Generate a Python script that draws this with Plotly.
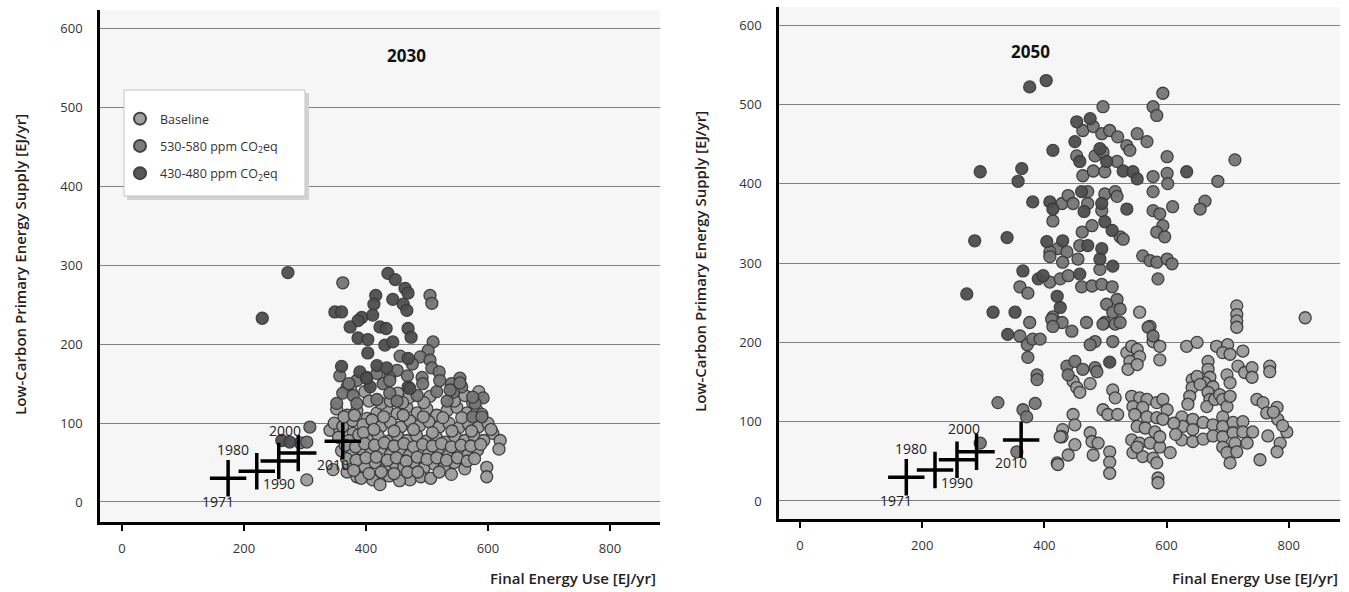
import plotly.graph_objects as go

# ---------------- data ----------------
hist_x = [174, 221, 257, 289, 362]
hist_y = [30, 39, 52, 62, 77]
hist_labels = ["1971", "1980", "1990", "2000", "2010"]

# 2030 panel
p2030_low_x = [272, 230, 436, 448, 464, 469, 416, 444, 413, 461, 467, 349, 360, 393, 387, 411, 374, 423, 433,
               469, 474, 387, 403, 431, 444, 403, 469, 418, 434, 390, 469, 407, 472, 262, 275, 401, 360]
p2030_low_y = [291, 233, 290, 282, 271, 265, 262, 257, 251, 251, 243, 241, 241, 234, 230, 237, 222, 222, 220,
               220, 209, 208, 206, 199, 203, 189, 182, 173, 170, 165, 146, 146, 144, 78, 76, 157, 172]

p2030_mid_x = [362, 505, 508, 510, 502, 489, 505, 508, 451, 439, 369, 362, 379, 492, 493, 428, 439, 554, 557,
               543, 592, 579, 575, 590, 352, 385, 418, 451, 484, 516, 533, 456, 476, 520, 540, 468, 308, 292,
               303, 385, 401, 418, 439, 521, 538, 554, 575, 357, 372]
p2030_mid_y = [278, 262, 252, 203, 192, 184, 180, 170, 167, 158, 146, 138, 135, 158, 150, 150, 138, 157, 146,
               139, 132, 125, 108, 108, 125, 125, 130, 128, 135, 140, 128, 185, 175, 165, 150, 160, 95, 75,
               76, 154, 158, 163, 154, 154, 142, 151, 133, 160, 150]

p2030_base_x = [341, 357, 379, 346, 369, 385, 411, 423, 472, 598, 598, 608, 620, 618, 303,
                352, 369, 385, 402, 418, 434, 451, 467, 484, 500, 516, 533, 549, 566, 582, 587,
                348, 362, 378, 395, 410, 425, 440, 457, 472, 488, 503, 520, 536, 552, 568, 584, 600,
                355, 372, 388, 403, 420, 436, 452, 467, 483, 499, 515, 530, 546, 562, 577, 593,
                360, 376, 393, 408, 424, 440, 456, 471, 487, 503, 518, 535, 550, 567, 583,
                372, 398, 415, 431, 447, 462, 479, 495, 512, 528, 545, 562,
                392, 438, 455, 490, 506, 375, 398, 452, 470, 505, 562, 585,
                364, 381, 396, 413, 429, 446, 461, 478, 494, 509, 526, 541, 557, 573, 590, 605,
                366, 383, 398, 414, 430, 446, 462, 478, 493, 509, 524, 540, 556, 572, 588,
                368, 384, 400, 417, 435, 450, 466, 484, 500, 516, 532, 550, 566, 578,
                380, 405, 425, 446, 468, 485, 520, 540, 405, 425, 440, 460, 495, 545, 575]
p2030_base_y = [91, 91, 87, 41, 38, 32, 28, 22, 28, 44, 32, 87, 78, 67, 28,
                118, 110, 116, 106, 113, 118, 112, 120, 113, 118, 110, 116, 120, 113, 116, 104,
                100, 96, 103, 98, 104, 96, 101, 95, 103, 97, 102, 95, 100, 94, 99, 95, 100,
                82, 78, 85, 79, 84, 77, 83, 78, 84, 77, 82, 76, 83, 78, 84, 78,
                65, 60, 67, 62, 68, 60, 66, 59, 65, 61, 67, 59, 65, 60, 66,
                48, 45, 50, 42, 49, 44, 50, 43, 48, 44, 50, 42,
                30, 33, 27, 32, 30, 142, 140, 138, 132, 134, 135, 140,
                108, 110, 88, 92, 108, 90, 110, 92, 108, 88, 107, 90, 107, 90, 111, 92,
                72, 70, 74, 72, 75, 71, 74, 70, 73, 71, 74, 70, 72, 71, 73,
                55, 53, 56, 57, 53, 56, 52, 57, 54, 56, 53, 56, 52, 55,
                40, 36, 38, 36, 38, 38, 38, 35, 128, 125, 128, 126, 126, 128, 126]

# 2050 panel
p2050_low_x = [376, 403, 295, 363, 357, 414, 633, 286, 339, 273, 316, 352, 340, 453, 475, 450, 458, 491, 502,
               535, 409, 414, 461, 381, 494, 499, 511, 465, 507, 529, 545, 552, 404, 430, 390, 398, 365, 458,
               471, 494, 512, 491, 426, 421]
p2050_low_y = [522, 530, 415, 419, 403, 442, 415, 328, 332, 261, 238, 238, 210, 478, 482, 453, 428, 444, 428,
               368, 377, 368, 390, 377, 375, 352, 341, 365, 175, 416, 415, 406, 327, 328, 280, 284, 290, 286,
               322, 318, 296, 305, 244, 258]

p2050_mid_x = [594, 578, 584, 496, 463, 480, 494, 507, 520, 552, 568, 535, 540, 453, 483, 496, 519, 463, 480,
               499, 601, 578, 601, 602, 578, 684, 663, 655, 429, 439, 447, 471, 471, 499, 516, 519, 494, 524,
               578, 589, 594, 584, 597, 610, 414, 422, 409, 437, 458, 462, 478, 529, 409, 430, 455, 561, 573,
               584, 601, 609, 586, 491, 360, 373, 409, 426, 439, 461, 478, 494, 511, 519, 502, 512, 499, 376,
               414, 469, 412, 429, 445, 414, 496, 516, 512, 483, 475, 360, 372, 373, 388, 388, 381, 393, 437,
               439, 450, 463, 483, 486, 570, 578, 324, 365, 371, 385, 712, 524, 524, 295, 355]
p2050_mid_y = [514, 497, 486, 497, 467, 472, 463, 467, 459, 463, 453, 448, 442, 435, 435, 440, 428, 410, 416,
               415, 434, 409, 413, 400, 390, 403, 378, 368, 375, 385, 375, 390, 375, 387, 390, 384, 366, 333,
               366, 362, 347, 339, 333, 371, 353, 318, 314, 314, 322, 339, 347, 330, 308, 301, 305, 309, 303,
               301, 305, 299, 280, 292, 270, 262, 276, 280, 284, 270, 271, 273, 270, 254, 248, 238, 225, 225,
               232, 225, 229, 225, 214, 220, 223, 223, 201, 201, 197, 208, 197, 181, 159, 153, 204, 204, 170,
               159, 176, 166, 168, 163, 219, 208, 124, 115, 106, 123, 430, 242, 225, 73, 62]

p2050_base_x = [447, 453, 458, 475, 512, 516, 496, 504, 520, 447, 450, 430, 429, 475, 478, 488, 450, 439, 421,
                480, 507, 507, 507, 422, 426,
                543, 556, 568, 545, 561, 584, 594, 601, 548, 568, 584, 594, 552, 565, 581, 543, 556, 573, 589,
                606, 545, 561, 578, 584, 552, 589, 586, 586, 535, 543, 552, 556, 540, 537, 552,
                633, 650, 682, 700, 692, 704, 725, 668, 668, 671, 663, 676, 699, 704, 717, 728, 740, 740, 769,
                769, 642, 642, 638, 635, 650, 655, 668, 671, 666, 679, 687, 692, 699, 704, 625, 627, 625, 643,
                643, 643, 660, 660, 676, 676, 692, 692, 692, 709, 709, 712, 725, 725, 732, 741, 692, 699, 715,
                704, 748, 758, 764, 781, 782, 797, 786, 781, 766, 753, 827, 715, 715, 715, 715, 556, 573, 578,
                589, 589, 612, 615, 790, 775]
p2050_base_y = [151, 143, 137, 148, 140, 130, 115, 109, 109, 109, 96, 90, 81, 86, 75, 73, 71, 58, 48,
                58, 62, 49, 35, 46, 81,
                132, 130, 128, 119, 118, 124, 128, 115, 109, 106, 105, 103, 94, 92, 87, 77, 73, 73, 68,
                61, 61, 56, 54, 48, 68, 81, 29, 23, 187, 195, 191, 182, 176, 166, 172,
                195, 200, 195, 197, 187, 185, 189, 176, 166, 156, 149, 144, 159, 149, 170, 162, 168, 156, 170,
                163, 153, 143, 132, 122, 157, 147, 137, 128, 119, 128, 134, 128, 119, 132, 106, 94, 77, 103,
                90, 75, 99, 78, 96, 82, 106, 94, 81, 99, 86, 73, 100, 87, 73, 87, 68, 61, 62,
                48, 128, 124, 111, 118, 103, 87, 73, 62, 82, 52, 231, 246, 235, 227, 219, 238, 220, 201,
                195, 178, 98, 84, 95, 112]

# label placement offsets (pixels) for the historical markers
label_dx = [-10, -24, 0, -13, -10]
label_dy = [-23, 22, -23, 23, -23]

# ---------------- styling ----------------
C_BASE = "#9c9c9c"
C_MID = "#767676"
C_LOW = "#4e4e4e"
OUTLINE = "#383838"
FONT = "Open Sans"

fig = go.Figure()


def add_points(xs, ys, color, name, xa, ya, show):
    fig.add_trace(go.Scatter(
        x=xs, y=ys, mode="markers", name=name, legendgroup=name, showlegend=show,
        xaxis=xa, yaxis=ya,
        marker=dict(size=12, color=color, opacity=0.95, line=dict(color=OUTLINE, width=1.3)),
    ))


add_points(p2030_base_x, p2030_base_y, C_BASE, "Baseline", "x", "y", True)
add_points(p2030_mid_x, p2030_mid_y, C_MID, "530-580 ppm CO<sub>2</sub>eq", "x", "y", True)
add_points(p2030_low_x, p2030_low_y, C_LOW, "430-480 ppm CO<sub>2</sub>eq", "x", "y", True)
add_points(p2050_base_x, p2050_base_y, C_BASE, "Baseline", "x2", "y2", False)
add_points(p2050_mid_x, p2050_mid_y, C_MID, "530-580 ppm CO<sub>2</sub>eq", "x2", "y2", False)
add_points(p2050_low_x, p2050_low_y, C_LOW, "430-480 ppm CO<sub>2</sub>eq", "x2", "y2", False)

for xa, ya in (("x", "y"), ("x2", "y2")):
    fig.add_trace(go.Scatter(
        x=hist_x, y=hist_y, mode="markers", showlegend=False, xaxis=xa, yaxis=ya,
        marker=dict(symbol="cross-thin", size=26, color="black", line=dict(color="black", width=3.5)),
        hoverinfo="skip",
    ))
    for i, lab in enumerate(hist_labels):
        fig.add_annotation(x=hist_x[i], y=hist_y[i], xref=xa, yref=ya, text=lab, showarrow=False,
                           xshift=label_dx[i], yshift=label_dy[i],
                           font=dict(family=FONT, size=14, color="#222"))

axis_common = dict(showgrid=False, zeroline=False, showline=True, linecolor="black", linewidth=2.5,
                   ticks="outside", ticklen=6, tickwidth=2, tickcolor="black",
                   tickvals=[0, 200, 400, 600, 800], ticklabelstandoff=7,
                   tickfont=dict(family=FONT, size=13, color="#333"))
yaxis_common = dict(showgrid=True, gridcolor="#808080", gridwidth=1.2, zeroline=False, showline=True,
                    linecolor="black", linewidth=2.5, ticks="", tickvals=[0, 100, 200, 300, 400, 500, 600],
                    ticklabelstandoff=12, tickfont=dict(family=FONT, size=13, color="#333"))

W, H = 1349, 592
fig.update_layout(
    width=W, height=H, margin=dict(l=0, r=0, t=0, b=0),
    paper_bgcolor="white", plot_bgcolor="#f6f6f6",
    font=dict(family=FONT, color="#222"),
    xaxis=dict(domain=[100 / W, 660 / W], range=[-36, 882], anchor="y", **axis_common),
    yaxis=dict(domain=[1 - 522 / H, 1 - 10 / H], range=[-25.4, 624], anchor="x", **yaxis_common),
    xaxis2=dict(domain=[779 / W, 1340 / W], range=[-34.4, 884], anchor="y2", **axis_common),
    yaxis2=dict(domain=[1 - 519 / H, 1 - 7 / H], range=[-22.7, 622.7], anchor="x2", **yaxis_common),
    legend=dict(x=120 / W, y=1 - 104 / H, xanchor="left", yanchor="top", bgcolor="rgba(0,0,0,0)",
                borderwidth=0, traceorder="grouped", tracegroupgap=8,
                font=dict(family=FONT, size=12.5, color="#333"), itemsizing="constant"),
    showlegend=True,
)

# legend box with a soft shadow
fig.add_shape(type="rect", xref="paper", yref="paper", x0=127 / W, x1=309 / W, y0=1 - 200 / H, y1=1 - 93 / H,
              fillcolor="#d2d2d2", line=dict(width=0), layer="above")
fig.add_shape(type="rect", xref="paper", yref="paper", x0=124 / W, x1=305 / W, y0=1 - 196 / H, y1=1 - 90 / H,
              fillcolor="white", line=dict(width=1, color="#c4c4c4"), layer="above")

# panel titles
fig.add_annotation(x=385 / W, y=1 - 42 / H, xref="paper", yref="paper", text="<b>2030</b>", showarrow=False,
                   font=dict(family=FONT, size=17, color="#111"))
fig.add_annotation(x=1052 / W, y=1 - 38 / H, xref="paper", yref="paper", text="<b>2050</b>", showarrow=False,
                   font=dict(family=FONT, size=17, color="#111"))

# axis titles
for xr, xt in ((658, "Final Energy Use [EJ/yr]"), (1340, "Final Energy Use [EJ/yr]")):
    fig.add_annotation(x=xr / W, y=1 - 578 / H, xref="paper", yref="paper", text=xt, showarrow=False,
                       xanchor="right", yanchor="middle",
                       font=dict(family=FONT, size=15, color="#222", weight=600))
for xc, yc in ((20, 265), (700, 262)):
    fig.add_annotation(x=xc / W, y=1 - yc / H, xref="paper", yref="paper",
                       text="Low-Carbon Primary Energy Supply [EJ/yr]", showarrow=False, textangle=-90,
                       xanchor="center", yanchor="middle",
                       font=dict(family=FONT, size=15, color="#222", weight=600))

fig.write_html("out.html")
